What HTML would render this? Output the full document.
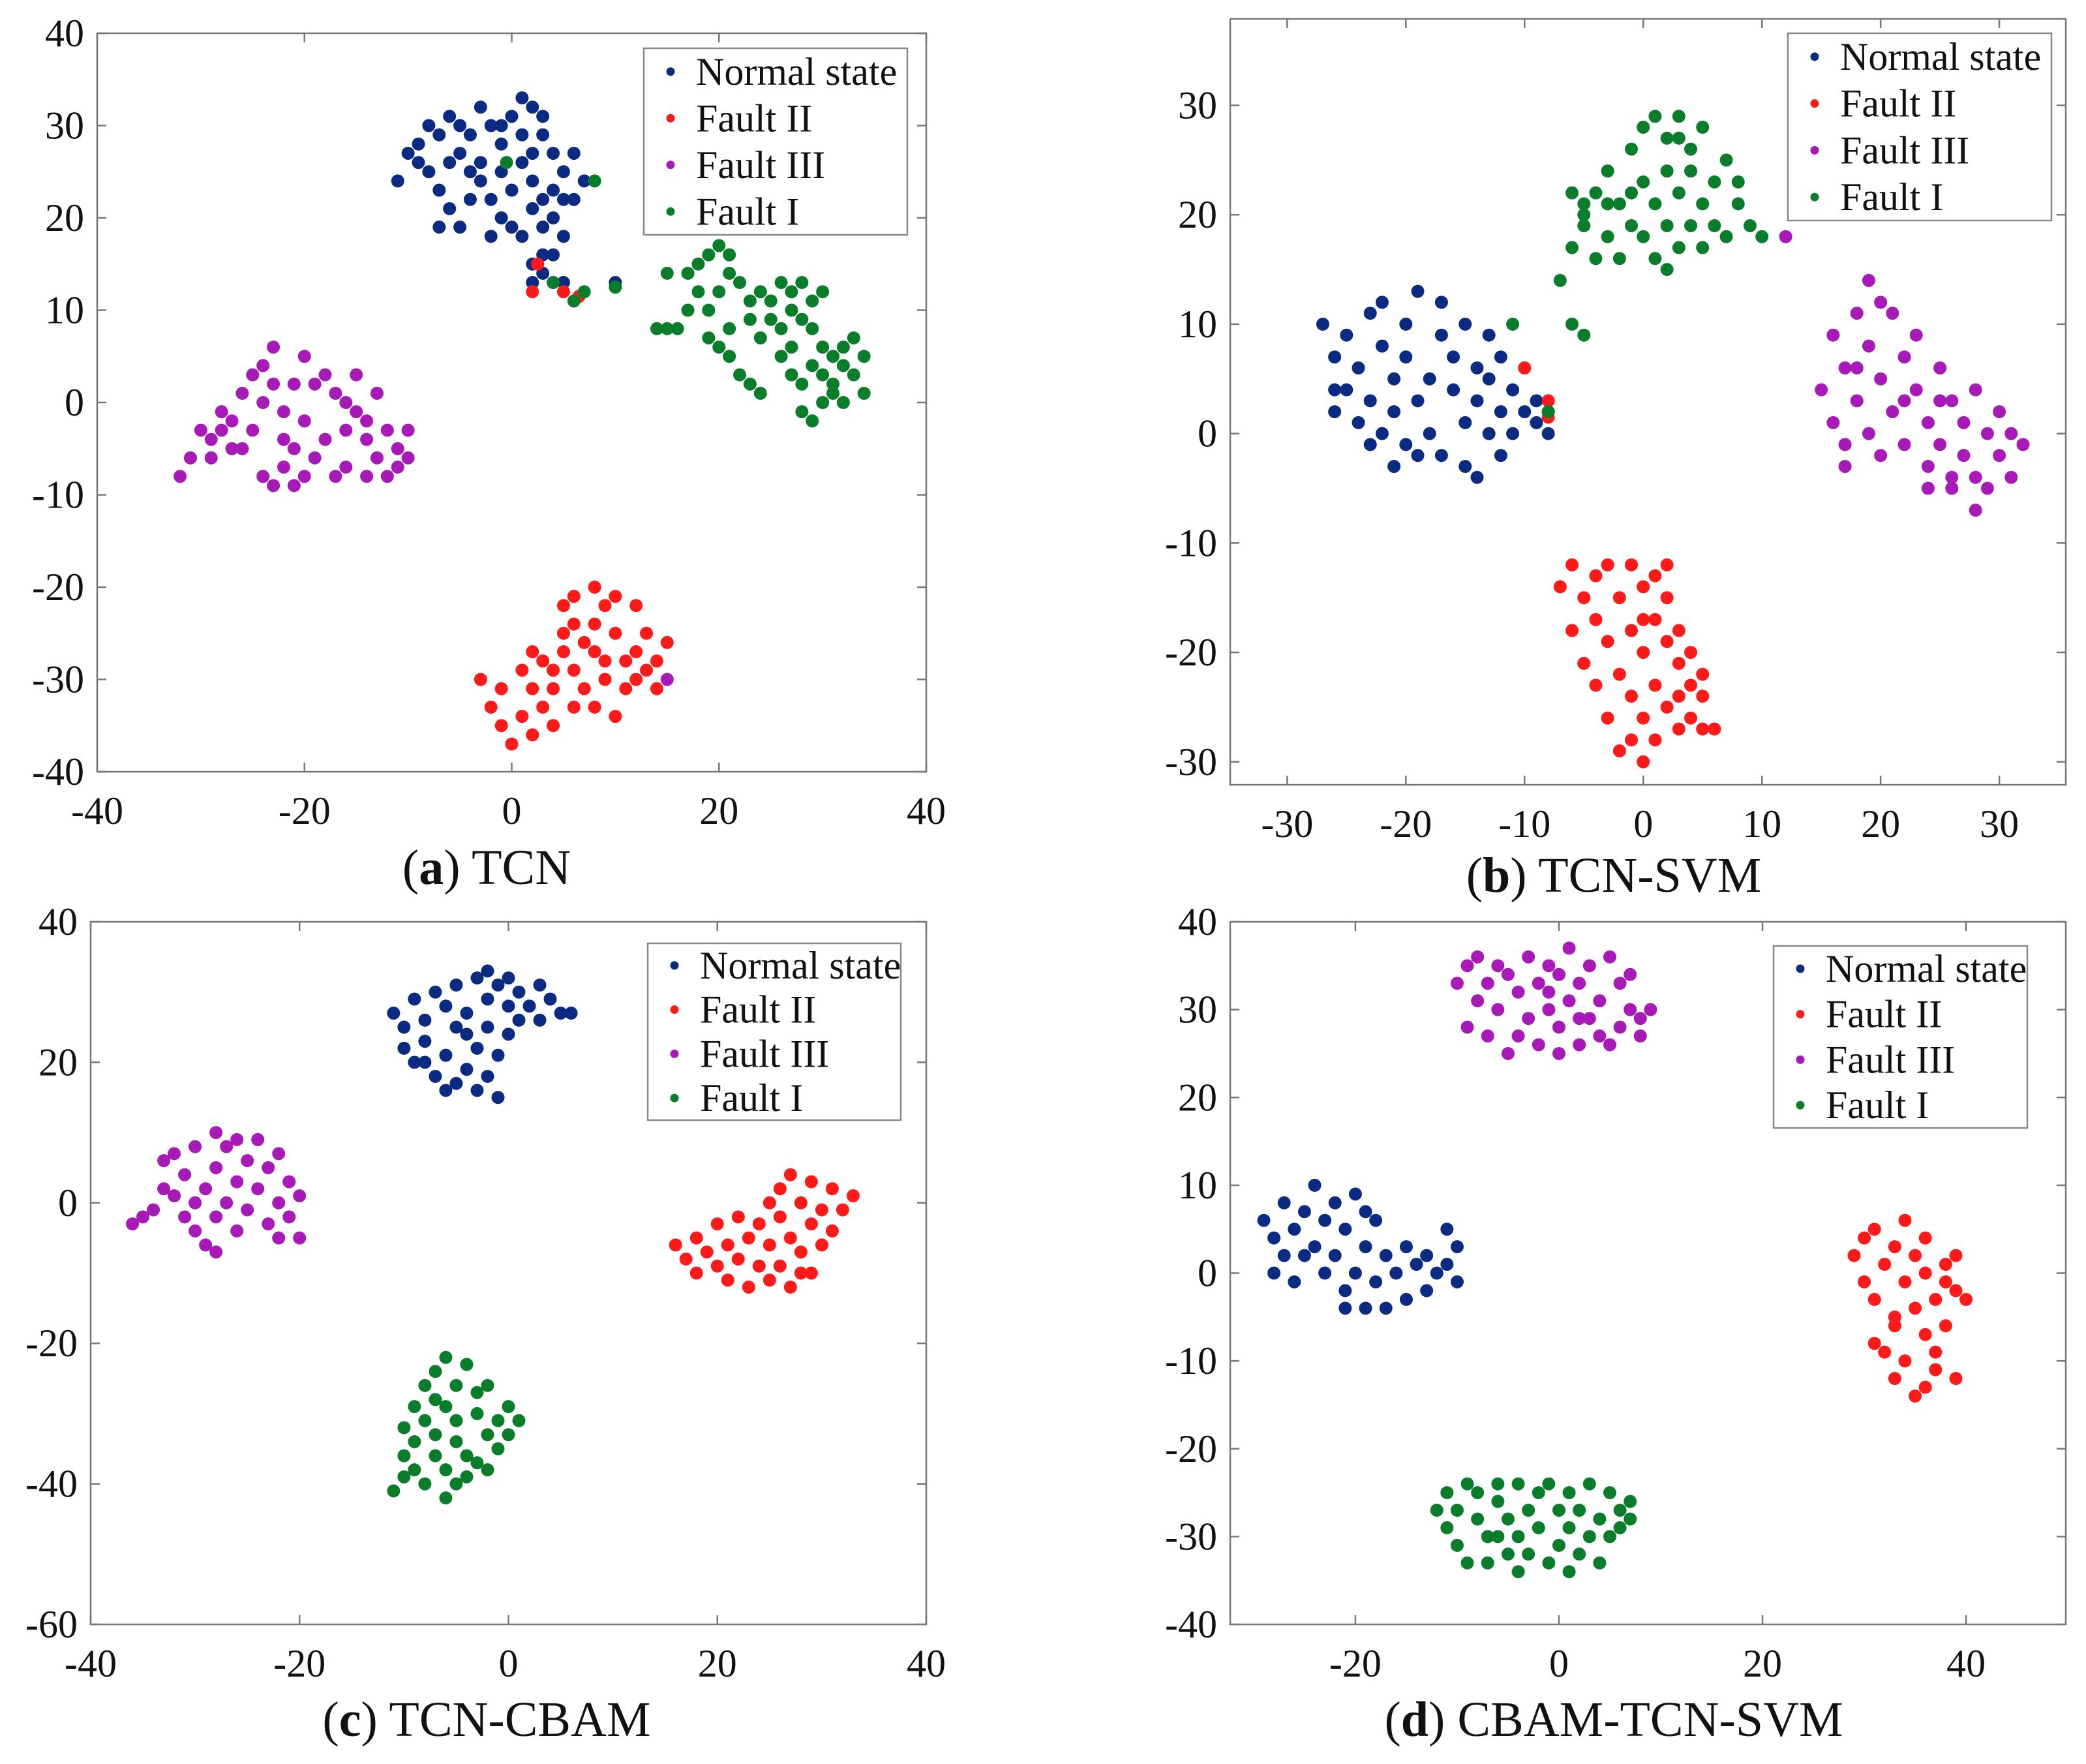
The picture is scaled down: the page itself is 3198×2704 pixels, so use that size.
<!DOCTYPE html>
<html><head><meta charset="utf-8"><style>
html,body{margin:0;padding:0;background:#fff}
svg{display:block}
svg text{font-family:"Liberation Serif","Times New Roman",Times,serif;fill:#111}
</style></head><body>
<svg id="fig" width="3198" height="2704" viewBox="0 0 3198 2704" xmlns="http://www.w3.org/2000/svg" font-family="Liberation Serif, serif"></svg>
<script>
// ---- data (t-SNE coordinates) ----
const seriesNames = ["Normal state","Fault II","Fault III","Fault I"];
const seriesColors = ["#0b2a82","#ff1a1a","#a81ab8","#0a7d2a"];

const aNormal=[[-11,24],[-10,27],[-9,28],[-8,30],[-7,29],[-6,31],[-5,30],[-5,27],[-4,29],[-3,32],[-2,30],[-1,28],[0,31],[1,33],[2,32],[3,31],[3,29],[4,27],[5,25],[6,27],[7,24],[6,22],[-8,25],[-7,23],[-6,21],[-7,19],[-5,19],[-4,22],[-3,24],[-2,22],[-1,20],[0,19],[1,18],[2,21],[3,19],[4,20],[5,18],[-1,25],[1,26],[2,24],[0,23],[-3,26],[-4,25],[-9,26],[4,23],[5,22],[-6,26],[-2,18],[3,22],[2,27],[-1,30],[1,29],[2,15],[3,14],[4,16],[2,13],[3,16],[5,13],[10,13]];
const aFault2=[[-3,-30],[-2,-33],[-1,-35],[-1,-31],[0,-37],[1,-29],[1,-34],[2,-36],[2,-27],[3,-33],[3,-28],[4,-31],[4,-35],[5,-27],[5,-22],[5,-25],[6,-33],[6,-21],[6,-29],[7,-26],[7,-31],[8,-20],[8,-24],[8,-33],[9,-28],[9,-22],[9,-30],[10,-21],[10,-25],[10,-34],[11,-28],[11,-31],[12,-22],[12,-27],[12,-30],[13,-25],[13,-29],[14,-28],[14,-31],[15,-26],[2,-31],[4,-29],[6,-24],[8,-27],[2,12],[2.5,15],[5,12],[6,11],[6.5,11.5]];
const aFault3=[[-32,-8],[-31,-6],[-30,-3],[-29,-4],[-29,-6],[-28,-1],[-27,-2],[-27,-5],[-26,1],[-25,3],[-25,-3],[-24,4],[-23,6],[-23,2],[-22,-1],[-22,-4],[-22,-7],[-21,-9],[-20,5],[-20,-2],[-19,-6],[-19,2],[-18,3],[-17,1],[-17,-8],[-16,-3],[-16,-7],[-15,-1],[-15,3],[-14,-4],[-14,-8],[-13,1],[-13,-6],[-12,-3],[-11,-5],[-11,-7],[-10,-6],[-10,-3],[-12,-8],[-24,-8],[-21,-5],[-23,-9],[-26,-5],[-28,-3],[-20,-8],[-18,-4],[-24,0],[-16,0],[-14,-2],[-21,2],[15,-30]];
const aFault1=[[14,8],[15,8],[16,8],[15,14],[17,14],[18,15],[19,16],[20,17],[21,16],[21,14],[22,13],[20,12],[18,12],[19,10],[17,10],[19,7],[20,6],[21,5],[23,11],[24,12],[23,9],[24,7],[25,11],[25,9],[26,8],[27,12],[27,10],[28,13],[28,9],[29,11],[29,8],[26,5],[27,3],[28,2],[29,4],[30,3],[30,6],[31,5],[32,6],[32,4],[31,1],[33,3],[33,7],[34,5],[32,0],[30,0],[28,-1],[29,-2],[22,3],[23,2],[24,1],[21,8],[26,13],[30,12],[27,6],[31,2],[34,1],[-0.5,26],[8,24],[4,13],[7,12],[10,12.5],[6,11]];

const bNormal=[[-27,10],[-26,7],[-26,2],[-25,9],[-25,4],[-24,1],[-24,6],[-23,11],[-23,3],[-22,12],[-22,0],[-22,8],[-21,5],[-21,2],[-20,10],[-20,-1],[-20,7],[-19,3],[-19,13],[-18,5],[-18,0],[-17,9],[-17,-2],[-16,4],[-16,7],[-15,1],[-15,-3],[-14,6],[-14,3],[-14,-4],[-13,0],[-13,5],[-12,2],[-12,-2],[-11,4],[-11,0],[-10,2],[-10,6],[-9,1],[-9,3],[-8,0],[-8,2],[-17,12],[-23,-1],[-19,-2],[-15,10],[-12,7],[-26,4],[-21,-3],[-13,9]];
const bFault2=[[-7,-14],[-6,-12],[-6,-18],[-5,-21],[-4,-13],[-4,-17],[-4,-23],[-3,-19],[-3,-26],[-2,-15],[-2,-22],[-2,-29],[-1,-12],[-1,-18],[-1,-24],[-1,-28],[0,-14],[0,-20],[0,-26],[0,-30],[1,-13],[1,-17],[1,-23],[1,-28],[2,-19],[2,-25],[2,-15],[3,-21],[3,-27],[3,-18],[4,-23],[4,-26],[4,-20],[5,-22],[5,-27],[6,-27],[5,-24],[-3,-12],[-5,-15],[2,-12],[0,-17],[3,-24],[-10,6],[-8,3],[-8,1.5]];
const bFault3=[[15,4],[16,9],[16,1],[17,6],[17,-1],[18,11],[18,3],[19,14],[19,0],[19,8],[20,5],[20,-2],[21,11],[21,2],[22,7],[22,-1],[23,4],[23,9],[24,1],[24,-3],[25,6],[25,-1],[26,3],[26,-5],[27,-2],[27,1],[28,4],[28,-4],[28,-7],[29,0],[29,-5],[30,2],[30,-2],[31,-4],[31,0],[32,-1],[26,-4],[24,-5],[22,3],[20,12],[18,6],[17,-3],[25,3],[12,18]];
const bFault1=[[-7,14],[-6,17],[-6,22],[-5,19],[-5,20],[-4,16],[-4,22],[-3,18],[-3,24],[-2,16],[-2,21],[-1,26],[-1,19],[0,23],[0,18],[1,29],[1,16],[1,21],[2,27],[2,19],[2,24],[3,29],[3,17],[3,22],[4,26],[4,19],[4,24],[5,28],[5,21],[5,17],[6,23],[6,19],[7,25],[7,18],[8,21],[8,23],[9,19],[10,18],[-5,21],[-1,22],[2,15],[-6,10],[-5,9],[-3,21],[0,28],[3,27],[-8,2],[-11,10]];

const cNormal=[[-11,27],[-10,25],[-10,22],[-9,29],[-9,20],[-8,26],[-8,23],[-7,30],[-7,18],[-6,28],[-6,21],[-5,31],[-5,25],[-5,17],[-4,27],[-4,19],[-3,32],[-3,22],[-3,16],[-2,33],[-2,29],[-2,25],[-2,18],[-1,31],[-1,21],[0,28],[0,24],[0,32],[1,30],[1,26],[2,28],[3,31],[3,26],[4,29],[5,27],[6,27],[-1,15],[-6,16],[-4,24],[-8,20]];
const cFault2=[[16,-6],[17,-8],[18,-5],[18,-10],[19,-7],[20,-3],[20,-9],[21,-6],[21,-11],[22,-2],[22,-8],[23,-5],[23,-12],[24,-9],[24,-3],[25,-6],[25,-11],[26,2],[26,-2],[26,-9],[27,-5],[27,4],[27,-12],[28,0],[28,-7],[29,3],[29,-3],[29,-10],[30,-1],[30,-6],[31,2],[31,-4],[32,-1],[33,1],[25,0],[28,-10]];
const cFault3=[[-36,-3],[-35,-2],[-34,-1],[-33,6],[-32,1],[-32,7],[-31,-2],[-31,4],[-30,8],[-30,-4],[-29,2],[-29,-6],[-28,10],[-28,5],[-28,-2],[-27,0],[-27,8],[-26,3],[-26,-4],[-25,6],[-25,-1],[-24,9],[-24,2],[-23,-3],[-23,5],[-22,0],[-22,7],[-22,-5],[-21,3],[-21,-2],[-20,-5],[-20,1],[-30,0],[-26,9],[-33,2],[-28,-7]];
const cFault1=[[-11,-41],[-10,-36],[-10,-32],[-9,-38],[-9,-29],[-9,-34],[-8,-40],[-8,-31],[-8,-26],[-7,-36],[-7,-24],[-7,-33],[-6,-42],[-6,-29],[-6,-22],[-6,-38],[-5,-34],[-5,-26],[-5,-31],[-4,-39],[-4,-23],[-4,-36],[-3,-30],[-3,-27],[-3,-37],[-2,-33],[-2,-26],[-1,-31],[-1,-35],[0,-29],[0,-33],[1,-31],[-5,-40],[-7,-28],[-2,-38],[-10,-39]];

const dNormal=[[-29,6],[-28,4],[-28,0],[-27,8],[-27,2],[-26,-1],[-26,5],[-25,7],[-24,10],[-24,3],[-23,0],[-23,6],[-22,8],[-22,2],[-21,-2],[-21,5],[-20,9],[-20,0],[-19,3],[-19,-4],[-18,6],[-18,-1],[-17,2],[-17,-4],[-16,0],[-15,3],[-15,-3],[-14,1],[-13,2],[-13,-2],[-12,0],[-11,5],[-11,1],[-10,3],[-10,-1],[-21,-4],[-25,2],[-19,7]];
const dFault2=[[29,2],[30,4],[30,-1],[31,-3],[31,5],[31,-8],[32,1],[32,-9],[33,3],[33,-5],[33,-12],[34,6],[34,-1],[34,-10],[35,2],[35,-4],[35,-14],[36,-7],[36,0],[36,4],[37,-3],[37,-11],[38,-1],[38,-6],[38,1],[39,-2],[39,-12],[40,-3],[39,2],[33,-6],[36,-13],[37,-9]];
const dFault3=[[-10,33],[-9,28],[-9,35],[-8,31],[-8,36],[-7,33],[-7,27],[-6,35],[-6,30],[-5,25],[-5,34],[-4,32],[-4,27],[-3,36],[-3,29],[-2,33],[-2,26],[-1,35],[-1,30],[0,34],[0,28],[0,25],[1,37],[1,31],[2,26],[2,33],[3,29],[3,35],[4,27],[4,31],[5,36],[5,26],[6,33],[6,28],[7,34],[7,30],[8,29],[9,30],[8,27],[-1,32],[2,29]];
const dFault1=[[-12,-27],[-11,-29],[-11,-25],[-10,-31],[-10,-27],[-9,-24],[-9,-33],[-8,-28],[-8,-25],[-7,-30],[-7,-33],[-6,-26],[-6,-24],[-5,-32],[-5,-28],[-4,-24],[-4,-30],[-4,-34],[-3,-27],[-3,-32],[-2,-25],[-2,-29],[-1,-33],[-1,-24],[0,-27],[0,-31],[1,-29],[1,-25],[2,-32],[2,-27],[3,-24],[3,-30],[4,-28],[4,-33],[5,-25],[5,-30],[6,-27],[6,-29],[7,-26],[7,-28],[-6,-30],[1,-34]];

const aXTicks=[-40,-20,0,20,40], aYTicks=[-40,-30,-20,-10,0,10,20,30,40];
const bXTicks=[-30,-20,-10,0,10,20,30], bYTicks=[-30,-20,-10,0,10,20,30];
const cXTicks=[-40,-20,0,20,40], cYTicks=[-60,-40,-20,0,20,40];
const dXTicks=[-20,0,20,40], dYTicks=[-40,-30,-20,-10,0,10,20,30,40];
const panelTitles=[["a","TCN"],["b","TCN-SVM"],["c","TCN-CBAM"],["d","CBAM-TCN-SVM"]];

// ---- layout ----
const FONT='"Liberation Serif", "Times New Roman", serif';
const panels=[
 {id:"a",box:[149,51,1420,1183],xd:[-40,40],yd:[-40,40],xt:aXTicks,yt:aYTicks,s:[aNormal,aFault2,aFault3,aFault1],leg:[987,74,1391,360],title:[746,1330]},
 {id:"b",box:[1886,29,3167,1203],xd:[-34.8,35.6],yd:[-32.1,37.9],xt:bXTicks,yt:bYTicks,s:[bNormal,bFault2,bFault3,bFault1],leg:[2741,51,3145,338],title:[2474,1342]},
 {id:"c",box:[139,1413,1420,2490],xd:[-40,40],yd:[-60,40],xt:cXTicks,yt:cYTicks,s:[cNormal,cFault2,cFault3,cFault1],leg:[993,1446,1381,1717],title:[746,2636]},
 {id:"d",box:[1886,1413,3167,2490],xd:[-32.3,49.8],yd:[-40,40],xt:dXTicks,yt:dYTicks,s:[dNormal,dFault2,dFault3,dFault1],leg:[2719,1450,3108,1729],title:[2474,2636]}
];
const NS="http://www.w3.org/2000/svg";
const svg=document.getElementById("fig");
function mk(tag,attrs,parent){const e=document.createElementNS(NS,tag);for(const k in attrs)e.setAttribute(k,attrs[k]);if(tag==="text")e.style.fontFamily=FONT;(parent||svg).appendChild(e);return e;}

panels.forEach((p,pi)=>{
  const [x0,y0,x1,y1]=p.box;
  const g=mk("g",{});
  
  
  const sx=v=>x0+(v-p.xd[0])/(p.xd[1]-p.xd[0])*(x1-x0);
  const sy=v=>y1-(v-p.yd[0])/(p.yd[1]-p.yd[0])*(y1-y0);
  p.s.forEach((arr,si)=>{
    const sg=mk("g",{fill:seriesColors[si]},g);
    
    
    arr.forEach(pt=>{
      const c=mk("circle",{cx:sx(pt[0]),cy:sy(pt[1]),r:10},sg);
      
      
    });
  });
  const rect=mk("rect",{x:x0,y:y0,width:x1-x0,height:y1-y0,fill:"none",stroke:"#777","stroke-width":2.5},g);
  
  
  const tl=14;
  p.xt.forEach(v=>{
    const X=sx(v);
    mk("line",{x1:X,y1:y1,x2:X,y2:y1-tl,stroke:"#777","stroke-width":2.5},g);
    mk("line",{x1:X,y1:y0,x2:X,y2:y0+tl,stroke:"#777","stroke-width":2.5},g);
    const t=mk("text",{x:X,y:y1+80,"font-size":60,"text-anchor":"middle"},g);
    t.textContent=v;
    
    
  });
  p.yt.forEach(v=>{
    const Y=sy(v);
    mk("line",{x1:x0,y1:Y,x2:x0+tl,y2:Y,stroke:"#777","stroke-width":2.5},g);
    mk("line",{x1:x1,y1:Y,x2:x1-tl,y2:Y,stroke:"#777","stroke-width":2.5},g);
    const t=mk("text",{x:x0-20,y:Y+20,"font-size":60,"text-anchor":"end"},g);
    t.textContent=v;
    
    
  });
  const [lx0,ly0,lx1,ly1]=p.leg;
  const lg=mk("g",{},g);
  
  
  mk("rect",{x:lx0,y:ly0,width:lx1-lx0,height:ly1-ly0,fill:"#fff",stroke:"#888","stroke-width":2.5},lg);
  const rowH=(ly1-ly0)/4;
  seriesNames.forEach((n,i)=>{
    const cy=ly0+rowH*(i+0.5);
    const e=mk("g",{},lg);
    
    
    mk("circle",{cx:lx0+41,cy:cy,r:6.5,fill:seriesColors[i]},e);
    const t=mk("text",{x:lx0+80,y:cy+20,"font-size":60},e);
    t.textContent=n;
  });
  const t=mk("text",{x:p.title[0],y:p.title[1]+25,"font-size":76,"text-anchor":"middle"},g);
  
  
  const tb=mk("tspan",{},t);tb.textContent="(";
  const tb2=mk("tspan",{"font-weight":"bold"},t);tb2.textContent=panelTitles[pi][0];
  const tb3=mk("tspan",{},t);tb3.textContent=") "+panelTitles[pi][1];
});
</script>
</body></html>
